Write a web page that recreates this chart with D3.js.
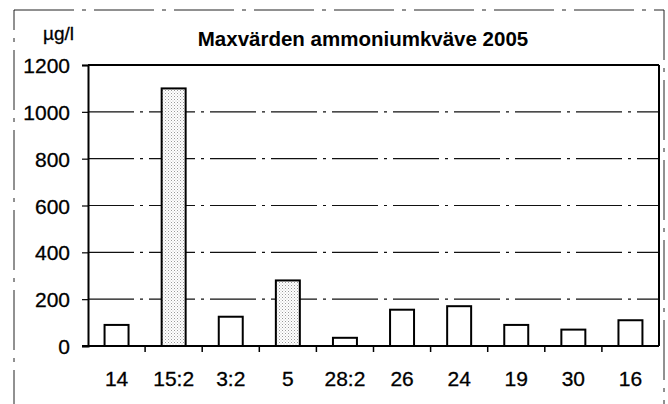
<!DOCTYPE html>
<html><head><meta charset="utf-8">
<script src="https://cdn.jsdelivr.net/npm/d3@7"></script>
<style>
html,body{margin:0;padding:0;background:#fff;}
svg{display:block;font-family:"Liberation Sans",Arial,sans-serif;}
</style></head>
<body><svg id="c" width="668" height="404"></svg>
<script>
const categories = ["14","15:2","3:2","5","28:2","26","24","19","30","16"];
const values = [90,1100,125,280,35,155,170,90,70,110];
const yTicks = [0,200,400,600,800,1000,1200];
const title = "Maxvärden ammoniumkväve 2005";
const unit = "µg/l";

const svg = d3.select("#c");
const L = 88, R = 659, T = 65, B = 346;

const defs = svg.append("defs");
const pat = defs.append("pattern").attr("id","dots").attr("patternUnits","userSpaceOnUse")
  .attr("width",3).attr("height",3);
pat.append("rect").attr("width",3).attr("height",3).attr("fill","#fff");
pat.append("rect").attr("x",0).attr("y",0).attr("width",1).attr("height",1).attr("fill","#999");
pat.append("rect").attr("x",1.5).attr("y",1.5).attr("width",1).attr("height",1).attr("fill","#bbb");

const x = d3.scaleBand().domain(categories).range([L,R]).paddingInner(0.58).paddingOuter(0.29);
const y = d3.scaleLinear().domain([0,1200]).range([B,T]);

// outer frame
svg.append("rect").attr("x",14).attr("y",10).attr("width",650).attr("height",400)
  .attr("fill","none").attr("stroke","#222").attr("stroke-width",1)
  .attr("stroke-dasharray","60 8 4 8");

// gridlines
svg.append("g").selectAll("line").data(yTicks.filter(t=>t>0 && t<1200)).join("line")
  .attr("x1",L).attr("x2",R).attr("y1",d=>y(d)).attr("y2",d=>y(d))
  .attr("stroke","#111").attr("stroke-width",1.2).attr("stroke-dasharray","46 6 3 6");

// plot frame top & right
svg.append("line").attr("x1",L).attr("x2",R).attr("y1",y(1200)).attr("y2",y(1200))
  .attr("stroke","#000").attr("stroke-width",2);
svg.append("line").attr("x1",R).attr("x2",R).attr("y1",y(1200)).attr("y2",B)
  .attr("stroke","#000").attr("stroke-width",2);

// y axis
const yAxis = d3.axisLeft(y).tickValues(yTicks).tickSize(6).tickPadding(12).tickFormat(d3.format("d"));
const gy = svg.append("g").attr("transform",`translate(${L},0)`).call(yAxis);
gy.select(".domain").attr("stroke","#000").attr("stroke-width",2);
gy.selectAll(".tick line").attr("stroke","#000").attr("stroke-width",1.2);
gy.selectAll("text").attr("font-size",21).attr("fill","#000").attr("dy","0.36em")
  .attr("stroke","#000").attr("stroke-width",0.3)
  .attr("font-family","'Liberation Sans',Arial,sans-serif");

// bars
svg.append("g").selectAll("rect").data(values).join("rect")
  .attr("x",(d,i)=>x(categories[i])).attr("width",x.bandwidth())
  .attr("y",d=>y(d)).attr("height",d=>B-y(d))
  .attr("fill",(d,i)=>[1,3].includes(i)?"url(#dots)":"#fff")
  .attr("stroke","#000").attr("stroke-width",2);

// x axis
const xb = d3.scaleLinear().domain([0,categories.length]).range([L,R]);
const xAxis = d3.axisBottom(x).tickSize(0).tickPadding(25);
const gx = svg.append("g").attr("transform",`translate(0,${B})`).call(xAxis);
gx.select(".domain").remove();
gx.selectAll("text").attr("font-size",21).attr("fill","#000")
  .attr("stroke","#000").attr("stroke-width",0.3)
  .attr("font-family","'Liberation Sans',Arial,sans-serif");
svg.append("line").attr("x1",L-6).attr("x2",R).attr("y1",B).attr("y2",B)
  .attr("stroke","#000").attr("stroke-width",2);
svg.append("g").selectAll("line").data(d3.range(1,categories.length)).join("line")
  .attr("x1",d=>xb(d)).attr("x2",d=>xb(d)).attr("y1",B).attr("y2",B+6)
  .attr("stroke","#000").attr("stroke-width",1.5);

// title and unit
svg.append("text").attr("x",363).attr("y",46).attr("text-anchor","middle")
  .attr("font-weight","bold").attr("font-size",20.5).attr("fill","#000").text(title);
svg.append("text").attr("x",43).attr("y",40).attr("font-size",19).attr("fill","#000")
  .attr("stroke","#000").attr("stroke-width",0.3).text(unit);
</script></body></html>
